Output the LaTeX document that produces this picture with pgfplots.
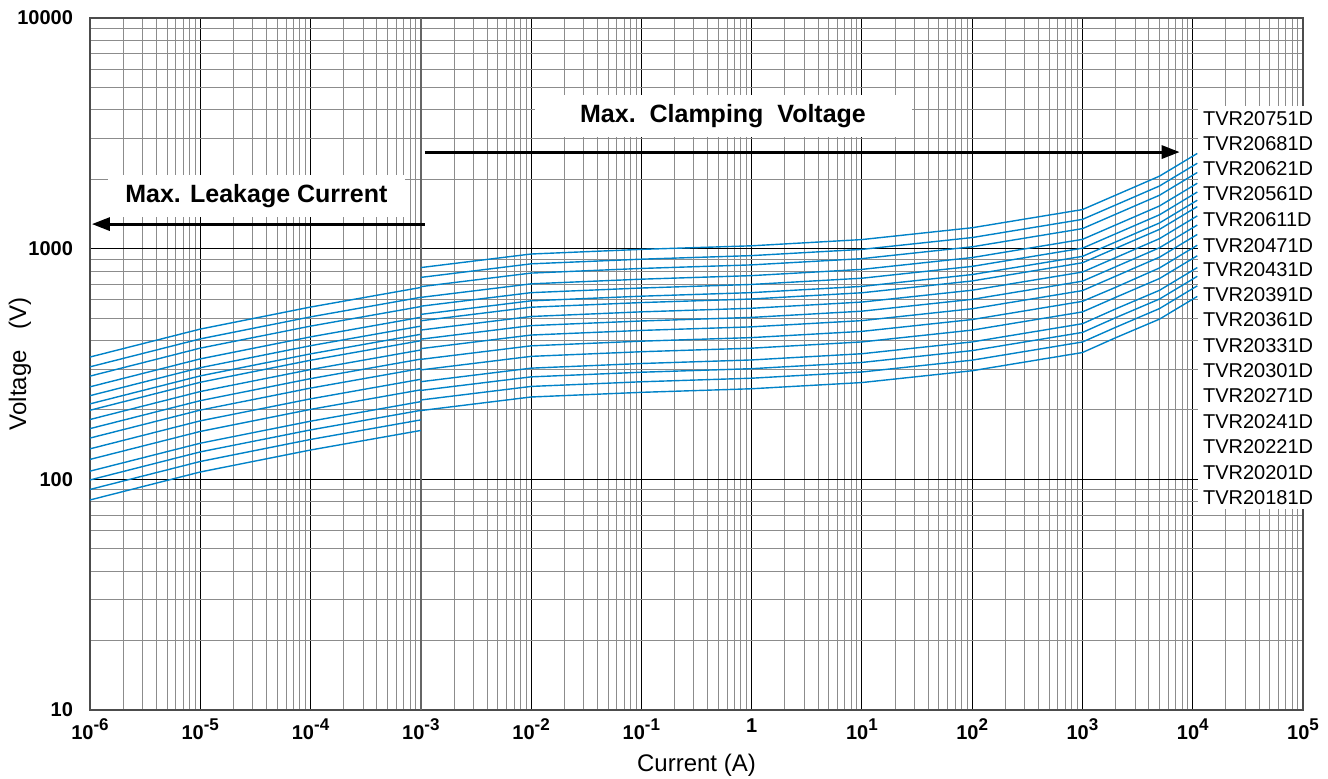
\documentclass[border=0pt]{standalone}
\usepackage{fontspec}
\setmainfont{Liberation Sans}
\usepackage{pgfplots}
\pgfplotsset{compat=1.18}
\usetikzlibrary{arrows.meta}
\definecolor{curve}{RGB}{0,130,200}
\newcommand{\tp}[1]{10\raisebox{0.42em}{\fontsize{8.5}{9}\selectfont\bfseries #1}}
\begin{document}
\begin{tikzpicture}
\begin{axis}[
  scale only axis, width=606.5pt, height=346pt,
  xmode=log, ymode=log, xmin=1e-6, xmax=1e5, ymin=10, ymax=1e4,
  xtick={1e-6,1e-5,1e-4,1e-3,1e-2,1e-1,1,1e1,1e2,1e3,1e4,1e5},
  xticklabels={\tp{-6},\tp{-5},\tp{-4},\tp{-3},\tp{-2},\tp{-1},1,\tp{1},\tp{2},\tp{3},\tp{4},\tp{5}},
  minor xtick={2e-6,3e-6,4e-6,5e-6,6e-6,7e-6,8e-6,9e-6,
    2e-5,3e-5,4e-5,5e-5,6e-5,7e-5,8e-5,9e-5,
    2e-4,3e-4,4e-4,5e-4,6e-4,7e-4,8e-4,9e-4,
    2e-3,3e-3,4e-3,5e-3,6e-3,7e-3,8e-3,9e-3,
    2e-2,3e-2,4e-2,5e-2,6e-2,7e-2,8e-2,9e-2,
    0.2,0.3,0.4,0.5,0.6,0.7,0.8,0.9,
    2,3,4,5,6,7,8,9,
    20,30,40,50,60,70,80,90,
    200,300,400,500,600,700,800,900,
    2000,3000,4000,5000,6000,7000,8000,9000,
    20000,30000,40000,50000,60000,70000,80000,90000},
  ytick={10,100,1000,10000},
  yticklabels={10,100,1000,10000},
  minor ytick={20,30,40,50,60,70,80,90,200,300,400,500,600,700,800,900,2000,3000,4000,5000,6000,7000,8000,9000},
  grid=both,
  major grid style={black, line width=0.5pt},
  minor grid style={black!45, line width=0.5pt},
  major tick length=0pt, minor tick length=0pt,
  axis line style={black!70, line width=0.6pt},
  tick label style={font=\bfseries\fontsize{10}{12}\selectfont},
  xticklabel style={yshift=-1pt},
  yticklabel style={xshift=-5pt},
  xlabel={Current (A)},
  ylabel={Voltage\ \ \ (V)},
  label style={font=\fontsize{12}{14}\selectfont},
  xlabel style={at={(axis description cs:0.5,-0.08)}, anchor=center},
  ylabel style={at={(axis description cs:-0.0577,0.5)}, anchor=center},
  clip=false,
]
\draw[black!60, line width=1pt] (axis cs:1e-3,10) -- (axis cs:1e-3,10000);
% 750
\addplot[curve, line width=0.7pt] coordinates {(1e-6,339) (1e-5,448.1) (1e-4,558.3) (1e-3,678.8)};
\addplot[curve, line width=0.7pt] coordinates {(1e-3,828) (1e-2,948) (1e-1,993) (1,1029) (10,1095) (100,1232.3) (1000,1477.5) (5000,2062.5) (11000,2587.5)};
% 680
\addplot[curve, line width=0.7pt] coordinates {(1e-6,307.4) (1e-5,406.3) (1e-4,506.2) (1e-3,615.4)};
\addplot[curve, line width=0.7pt] coordinates {(1e-3,750.7) (1e-2,859.5) (1e-1,900.3) (1,933) (10,992.8) (100,1117.2) (1000,1339.6) (5000,1870) (11000,2346)};
% 620
\addplot[curve, line width=0.7pt] coordinates {(1e-6,280.2) (1e-5,370.5) (1e-4,461.5) (1e-3,561.1)};
\addplot[curve, line width=0.7pt] coordinates {(1e-3,684.5) (1e-2,783.7) (1e-1,820.9) (1,850.6) (10,905.2) (100,1018.7) (1000,1221.4) (5000,1705) (11000,2139)};
% 560
\addplot[curve, line width=0.7pt] coordinates {(1e-6,251.8) (1e-5,332.8) (1e-4,414.6) (1e-3,504.1)};
\addplot[curve, line width=0.7pt] coordinates {(1e-3,614.9) (1e-2,704.0) (1e-1,737.5) (1,764.2) (10,813.2) (100,915.2) (1000,1097.3) (5000,1531.8) (11000,1921.7)};
% 510
\addplot[curve, line width=0.7pt] coordinates {(1e-6,230.5) (1e-5,304.7) (1e-4,379.6) (1e-3,461.6)};
\addplot[curve, line width=0.7pt] coordinates {(1e-3,563.0) (1e-2,644.6) (1e-1,675.2) (1,699.7) (10,744.6) (100,837.9) (1000,1004.7) (5000,1402.5) (11000,1759.5)};
% 470
\addplot[curve, line width=0.7pt] coordinates {(1e-6,212.4) (1e-5,280.8) (1e-4,349.9) (1e-3,425.4)};
\addplot[curve, line width=0.7pt] coordinates {(1e-3,518.9) (1e-2,594.1) (1e-1,622.3) (1,644.8) (10,686.2) (100,772.2) (1000,925.9) (5000,1292.5) (11000,1621.5)};
% 430
\addplot[curve, line width=0.7pt] coordinates {(1e-6,199.3) (1e-5,263.5) (1e-4,328.3) (1e-3,399.1)};
\addplot[curve, line width=0.7pt] coordinates {(1e-3,486.9) (1e-2,557.4) (1e-1,583.9) (1,605.1) (10,643.9) (100,724.6) (1000,868.8) (5000,1212.8) (11000,1521.5)};
% 390
\addplot[curve, line width=0.7pt] coordinates {(1e-6,181.7) (1e-5,240.2) (1e-4,299.2) (1e-3,363.8)};
\addplot[curve, line width=0.7pt] coordinates {(1e-3,443.8) (1e-2,508.1) (1e-1,532.2) (1,551.5) (10,586.9) (100,660.5) (1000,791.9) (5000,1105.5) (11000,1386.9)};
% 360
\addplot[curve, line width=0.7pt] coordinates {(1e-6,165.9) (1e-5,219.3) (1e-4,273.2) (1e-3,332.1)};
\addplot[curve, line width=0.7pt] coordinates {(1e-3,405.2) (1e-2,463.9) (1e-1,485.9) (1,503.5) (10,535.8) (100,603.0) (1000,723.0) (5000,1009.3) (11000,1266.2)};
% 330
\addplot[curve, line width=0.7pt] coordinates {(1e-6,151.0) (1e-5,199.6) (1e-4,248.6) (1e-3,302.3)};
\addplot[curve, line width=0.7pt] coordinates {(1e-3,368.7) (1e-2,422.2) (1e-1,442.2) (1,458.2) (10,487.6) (100,548.8) (1000,658.0) (5000,918.5) (11000,1152.3)};
% 300
\addplot[curve, line width=0.7pt] coordinates {(1e-6,135.6) (1e-5,179.3) (1e-4,223.3) (1e-3,271.5)};
\addplot[curve, line width=0.7pt] coordinates {(1e-3,331.2) (1e-2,379.2) (1e-1,397.2) (1,411.6) (10,438) (100,492.9) (1000,591) (2000,680) (5000,825) (11000,1035)};
% 270
\addplot[curve, line width=0.7pt] coordinates {(1e-6,122.0) (1e-5,161.3) (1e-4,201.0) (1e-3,244.4)};
\addplot[curve, line width=0.7pt] coordinates {(1e-3,298.1) (1e-2,341.3) (1e-1,357.5) (1,370.4) (10,394.2) (100,443.6) (1000,531.9) (2000,615) (5000,742.5) (11000,931.5)};
% 240
\addplot[curve, line width=0.7pt] coordinates {(1e-6,108.5) (1e-5,143.4) (1e-4,178.7) (1e-3,217.2)};
\addplot[curve, line width=0.7pt] coordinates {(1e-3,265.0) (1e-2,303.4) (1e-1,317.8) (1,329.3) (10,350.4) (100,394.3) (1000,472.8) (2000,548) (5000,660) (11000,828)};
% 220
\addplot[curve, line width=0.7pt] coordinates {(1e-6,99.4) (1e-5,131.5) (1e-4,163.8) (1e-3,199.1)};
\addplot[curve, line width=0.7pt] coordinates {(1e-3,242.9) (1e-2,278.1) (1e-1,291.3) (1,301.8) (10,321.2) (100,361.5) (1000,433.4) (2000,502) (5000,605) (11000,759)};
% 200
\addplot[curve, line width=0.7pt] coordinates {(1e-6,90.4) (1e-5,119.5) (1e-4,148.9) (1e-3,181)};
\addplot[curve, line width=0.7pt] coordinates {(1e-3,220.8) (1e-2,252.8) (1e-1,264.8) (1,274.4) (10,292) (100,328.6) (1000,394) (2000,456) (5000,550) (11000,690)};
% 180
\addplot[curve, line width=0.7pt] coordinates {(1e-6,81.4) (1e-5,107.6) (1e-4,134.0) (1e-3,162.9)};
\addplot[curve, line width=0.7pt] coordinates {(1e-3,198.7) (1e-2,227.5) (1e-1,238.3) (1,247.0) (10,262.8) (100,295.7) (1000,354.6) (2000,411) (5000,495) (11000,621)};

% annotations
\node[fill=white, minimum width=188.5pt, minimum height=21pt, inner sep=0pt,
      font=\bfseries\fontsize{12.5}{14}\selectfont] at (axis cs:0.55,3757) {Max.\ \ Clamping\ \ Voltage};
\node[fill=white, minimum width=148.5pt, minimum height=21pt, inner sep=0pt,
      font=\bfseries\fontsize{12.5}{14}\selectfont] at (axis cs:3.23e-5,1690) {Max. Leakage Current};
\draw[line width=1.5pt, -{Triangle[length=9pt,width=6.5pt]}] (axis cs:1.089e-3,2623) -- (axis cs:7620,2623);
\draw[line width=1.5pt, -{Triangle[length=9pt,width=6.5pt]}] (axis cs:1.089e-3,1278) -- (axis cs:1.04e-6,1278);

% device labels
\fill[white] (axis cs:11090,4150) rectangle (axis cs:1.3e5,74.3);
\begin{scope}[every node/.style={anchor=west, inner sep=0pt, font=\fontsize{10}{12}\selectfont}]
\node at (axis cs:12320,3671) {TVR20751D};
\node at (axis cs:12320,2860) {TVR20681D};
\node at (axis cs:12320,2213) {TVR20621D};
\node at (axis cs:12320,1725) {TVR20561D};
\node at (axis cs:12320,1335) {TVR20611D};
\node at (axis cs:12320,1036) {TVR20471D};
\node at (axis cs:12320,807.7) {TVR20431D};
\node at (axis cs:12320,629.3) {TVR20391D};
\node at (axis cs:12320,490.4) {TVR20361D};
\node at (axis cs:12320,378.2) {TVR20331D};
\node at (axis cs:12320,294.7) {TVR20301D};
\node at (axis cs:12320,229.7) {TVR20271D};
\node at (axis cs:12320,177.2) {TVR20241D};
\node at (axis cs:12320,138.0) {TVR20221D};
\node at (axis cs:12320,107.2) {TVR20201D};
\node at (axis cs:12320,83.6) {TVR20181D};
\end{scope}
\end{axis}
\pgfresetboundingbox
\path ([shift={(-45pt,-34pt)}]current axis.south west) rectangle ([shift={(12.5pt,9pt)}]current axis.north east);
\end{tikzpicture}
\end{document}
